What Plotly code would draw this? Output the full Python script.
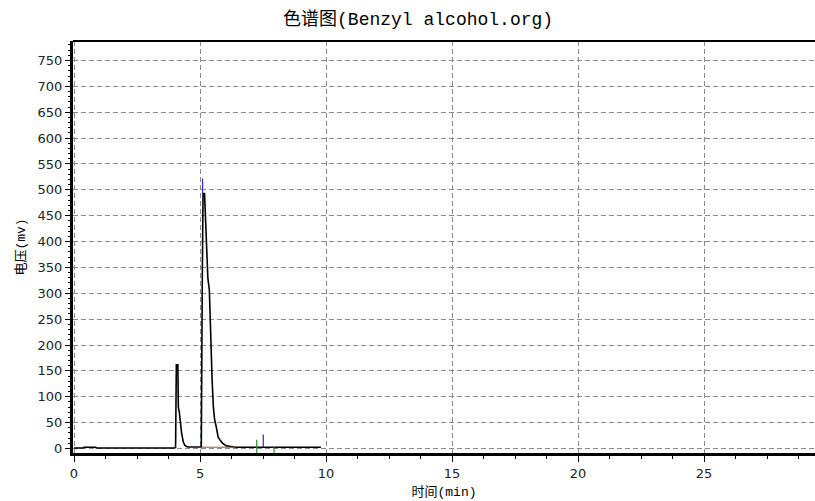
import plotly.graph_objects as go

# --- data ---
time_min = [0.0, 0.35, 0.40, 0.85, 0.90, 2.0, 3.0, 3.98, 4.03, 4.06, 4.12, 4.14, 4.18, 4.21, 4.27, 4.34, 4.40,
            4.50, 4.80, 5.02, 5.05, 5.09, 5.12, 5.18, 5.22, 5.27, 5.31, 5.37, 5.42, 5.48, 5.53, 5.58,
            5.63, 5.68, 5.72, 5.80, 5.90, 6.05, 6.20, 6.40, 7.5, 8.5, 9.8]
signal_mv = [1.0, 1.0, 2.5, 2.5, 1.0, 0.8, 0.8, 1.0, 2.0, 162.0, 162.0, 80.0, 70.0, 54.0, 29.0, 12.0, 6.0,
             3.0, 2.5, 2.5, 3.0, 330.0, 493.0, 493.0, 449.0, 390.0, 330.0, 306.0, 209.0, 132.0, 80.0, 55.0,
             45.0, 35.0, 22.0, 16.0, 10.0, 5.0, 3.5, 2.5, 2.5, 2.5, 2.5]

integ_base_t = [5.04, 6.40]
integ_base_v = [2.5, 2.5]

apex_marker_t = [5.10, 5.10]
apex_marker_v = [493, 522]

green_marks_t = [7.25, 7.94]
green_marks_top = [17, 3]
blue_marks_t = [7.51]
blue_marks_lo = [3]
blue_marks_hi = [27]

title = "色谱图(Benzyl alcohol.org)"
xlabel = "时间(min)"
ylabel = "电压(mv)"

Y_MIN = -8.7

fig = go.Figure()

fig.add_trace(go.Scatter(x=time_min, y=signal_mv, mode="lines",
                         line=dict(color="black", width=1.6), showlegend=False, hoverinfo="skip"))
fig.add_trace(go.Scatter(x=integ_base_t, y=integ_base_v, mode="lines",
                         line=dict(color="#8b5a3c", width=1), showlegend=False))
fig.add_trace(go.Scatter(x=apex_marker_t, y=apex_marker_v, mode="lines",
                         line=dict(color="#2a2ad0", width=1.2), showlegend=False))

gx, gy = [], []
for t, top in zip(green_marks_t, green_marks_top):
    gx += [t, t, None]
    gy += [Y_MIN, top, None]
fig.add_trace(go.Scatter(x=gx, y=gy, mode="lines", line=dict(color="#2e8b2e", width=1.2), showlegend=False))

bx, by = [], []
for t, lo, hi in zip(blue_marks_t, blue_marks_lo, blue_marks_hi):
    bx += [t, t, None]
    by += [lo, hi, None]
fig.add_trace(go.Scatter(x=bx, y=by, mode="lines", line=dict(color="#2a2ad0", width=1.2), showlegend=False))

tickfont = dict(family="DejaVu Sans", size=13, color="#222")
cjk = "Liberation Mono, Noto Sans CJK SC"

fig.update_layout(
    width=815, height=501,
    margin=dict(l=73, r=0, t=41, b=48),
    paper_bgcolor="white", plot_bgcolor="white",
    title=dict(text=title, x=0.513, xanchor="center", y=1 - 19 / 501, yanchor="middle", yref="container",
               font=dict(family=cjk, size=18, color="black")),
    xaxis=dict(range=[-0.04, 29.40], tick0=0, dtick=5, ticks="outside", ticklen=6, tickcolor="black",
               showline=True, linewidth=3, linecolor="black", zeroline=False,
               showgrid=True, gridcolor="#8a8a8a", griddash="5px,3px", gridwidth=1,
               minor=dict(dtick=1.25, tick0=0, ticks="outside", ticklen=3, tickcolor="black", showgrid=False),
               tickfont=tickfont,
               title=dict(text=xlabel, font=dict(family=cjk, size=13, color="black"), standoff=8)),
    yaxis=dict(range=[Y_MIN, 787.7], tick0=0, dtick=50, ticks="outside", ticklen=5, tickcolor="black",
               showline=True, linewidth=3, linecolor="black", zeroline=False,
               showgrid=True, gridcolor="#8a8a8a", griddash="5px,3px", gridwidth=1,
               minor=dict(dtick=10, tick0=0, ticks="outside", ticklen=2, tickcolor="black", showgrid=False),
               tickfont=tickfont,
               title=dict(text=ylabel, font=dict(family=cjk, size=13, color="black"), standoff=10)),
    shapes=[dict(type="line", xref="paper", yref="paper", x0=0, x1=1, y0=1, y1=1,
                 line=dict(color="black", width=2))],
)

fig.write_html("out.html")
